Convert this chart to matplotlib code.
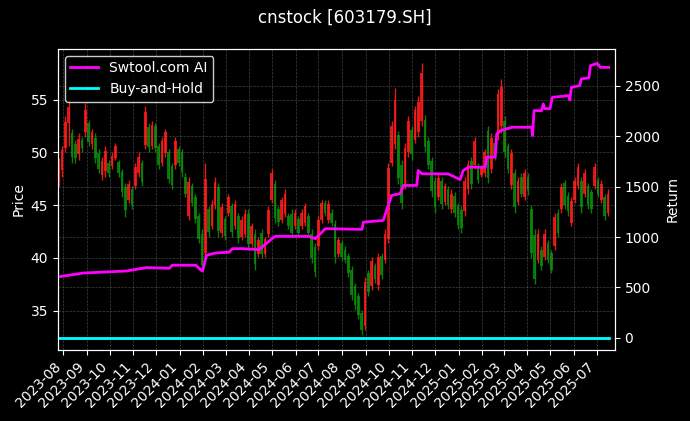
import matplotlib
matplotlib.use("Agg")
import matplotlib.pyplot as plt
import matplotlib.dates as mdates
import numpy as np
import pandas as pd

# Candles (roughly one candle per 3 trading days)
lows = [46.8, 47.7, 50.0, 50.6, 49.0, 49.0, 49.3, 50.0, 51.5, 50.6, 50.3, 49.0, 48.0, 47.4, 47.7, 47.7, 48.4, 49.3, 47.7, 45.8, 43.9, 45.2, 44.6, 46.5, 47.7, 46.8, 50.3, 50.0,
        50.3, 50.0, 48.4, 48.7, 49.6, 47.1, 46.5, 48.4, 48.7, 47.7, 45.8, 43.6, 44.9, 43.3, 41.4, 38.7, 40.0, 42.0, 42.7, 44.6, 42.0, 42.0, 41.7, 44.0, 42.0, 42.7, 41.4, 41.7,
        42.0, 40.8, 41.0, 38.9, 40.1, 40.0, 40.1, 42.0, 45.2, 43.3, 43.0, 43.3, 43.9, 42.7, 42.0, 42.7, 42.0, 42.7, 43.0, 42.0, 39.5, 38.2, 40.8, 43.3, 44.0, 43.3, 43.0, 39.5,
        40.1, 39.8, 39.5, 38.2, 36.0, 35.1, 34.2, 32.7, 33.2, 36.4, 37.0, 37.6, 37.0, 38.0, 39.5, 41.4, 48.7, 50.3, 47.0, 44.6, 46.5, 49.6, 49.3, 50.9, 51.5, 52.5, 50.0, 48.4,
        45.8, 44.3, 45.5, 44.6, 45.0, 44.6, 44.3, 43.9, 42.7, 42.4, 44.0, 46.1, 46.5, 48.4, 47.1, 47.7, 47.7, 47.1, 48.0, 49.3, 51.2, 51.8, 49.6, 48.0, 46.5, 44.3, 45.0, 45.8,
        45.5, 46.0, 40.0, 37.5, 39.5, 38.9, 39.8, 39.5, 38.6, 40.8, 42.0, 44.3, 44.6, 44.0, 43.0, 45.2, 46.5, 44.3, 45.8, 44.6, 44.3, 46.5, 45.8, 45.2, 43.6, 44.0]
highs = [49.5, 50.6, 53.4, 55.0, 52.2, 51.2, 51.8, 51.5, 54.7, 53.1, 52.2, 51.8, 50.3, 49.6, 50.6, 49.3, 50.0, 50.9, 49.3, 48.4, 47.1, 47.4, 46.8, 49.0, 50.0, 49.3, 54.4, 52.8,
         53.0, 52.8, 50.9, 51.5, 52.2, 50.3, 49.0, 51.5, 50.6, 50.3, 48.0, 47.7, 47.1, 46.1, 44.3, 42.7, 49.0, 44.9, 45.5, 47.7, 47.1, 45.2, 44.0, 46.1, 45.2, 45.5, 44.3, 44.0,
         44.6, 44.6, 43.3, 42.7, 42.0, 42.7, 42.0, 44.9, 48.4, 47.4, 44.9, 45.8, 46.5, 44.3, 44.6, 44.6, 44.0, 44.6, 45.2, 44.3, 42.7, 41.4, 44.0, 45.5, 45.5, 45.5, 44.6, 43.6,
         42.0, 41.7, 41.1, 40.5, 39.2, 37.6, 36.7, 35.1, 38.2, 38.9, 40.1, 39.5, 40.5, 40.5, 42.7, 49.0, 53.0, 56.1, 52.0, 49.3, 50.9, 53.4, 52.5, 54.4, 55.3, 58.5, 53.5, 51.5,
         49.6, 47.7, 48.0, 47.7, 47.1, 46.8, 46.5, 46.2, 45.2, 44.9, 47.7, 49.3, 49.6, 51.5, 49.0, 48.7, 50.3, 52.5, 51.8, 51.2, 56.0, 56.9, 53.4, 50.9, 50.3, 48.4, 47.7, 48.0,
         48.4, 48.0, 45.0, 42.7, 42.7, 41.1, 42.7, 41.7, 40.8, 44.3, 44.6, 47.1, 47.4, 46.2, 45.8, 47.7, 49.0, 47.7, 48.4, 47.1, 46.5, 49.0, 47.7, 47.4, 46.1, 46.5]
opens = [47.3, 48.3, 50.4, 52.8, 51.8, 50.8, 49.8, 51.2, 51.9, 52.8, 50.8, 51.4, 49.9, 47.9, 48.2, 49.0, 48.7, 49.5, 49.1, 48.1, 46.7, 45.5, 46.5, 46.8, 48.0, 49.0, 50.7, 52.4,
         50.6, 52.5, 50.6, 49.0, 49.9, 50.0, 48.7, 48.8, 50.3, 50.0, 47.7, 44.0, 46.8, 45.8, 44.0, 42.3, 40.5, 44.6, 43.0, 45.0, 46.7, 42.4, 43.7, 44.3, 44.9, 43.0, 44.0, 42.0,
         42.3, 44.2, 41.3, 42.3, 40.4, 42.4, 40.4, 42.3, 45.5, 47.0, 44.6, 43.6, 44.2, 44.0, 44.2, 43.0, 43.7, 43.0, 43.3, 44.0, 42.3, 41.0, 41.1, 43.6, 45.2, 43.6, 44.3, 43.2,
         40.4, 41.4, 40.8, 40.2, 38.9, 37.3, 36.4, 34.8, 33.6, 38.6, 37.3, 39.2, 37.4, 40.2, 39.8, 41.8, 49.0, 50.8, 51.6, 48.8, 46.9, 50.0, 52.1, 51.2, 51.9, 53.0, 53.1, 51.1,
         49.2, 47.3, 45.8, 47.3, 45.3, 46.5, 44.6, 45.9, 44.9, 44.5, 44.4, 46.5, 49.2, 48.8, 48.7, 47.9, 48.0, 52.0, 48.4, 50.9, 51.6, 52.5, 53.0, 50.6, 46.9, 48.0, 45.3, 47.7,
         45.8, 47.7, 44.6, 42.2, 39.8, 40.8, 40.1, 41.4, 40.5, 41.1, 44.3, 44.6, 47.1, 45.9, 43.3, 45.5, 46.8, 47.3, 46.1, 46.8, 46.2, 46.8, 47.4, 45.5, 45.8, 44.3]
closes = [49.0, 50.2, 52.9, 54.3, 49.6, 49.5, 51.3, 50.4, 54.0, 51.0, 51.9, 49.5, 48.4, 49.2, 50.1, 48.0, 49.7, 50.6, 48.0, 46.2, 44.5, 47.0, 45.0, 48.6, 49.6, 47.2, 53.8, 50.5,
          52.6, 50.4, 48.8, 51.1, 51.9, 47.5, 46.9, 51.1, 49.0, 48.1, 46.1, 47.2, 45.2, 43.7, 41.8, 39.3, 47.5, 42.5, 45.1, 47.2, 42.6, 44.8, 42.1, 45.8, 42.5, 45.1, 41.9, 43.6,
          44.2, 41.3, 43.0, 39.4, 41.7, 40.4, 41.8, 44.5, 48.0, 43.8, 43.4, 45.5, 46.1, 43.0, 42.4, 44.3, 42.4, 44.3, 44.9, 42.4, 40.0, 38.7, 43.6, 45.2, 44.3, 45.1, 43.3, 40.1,
          41.7, 40.1, 39.8, 38.6, 36.5, 35.5, 34.6, 33.2, 37.7, 36.8, 39.7, 38.0, 40.1, 38.4, 42.3, 48.5, 52.5, 55.0, 47.6, 45.2, 50.4, 53.0, 49.8, 54.0, 54.8, 57.5, 50.5, 48.8,
          46.3, 44.8, 47.6, 45.1, 46.8, 45.0, 46.1, 44.3, 43.1, 42.8, 47.3, 48.9, 47.0, 51.1, 47.4, 48.5, 50.0, 47.6, 51.4, 49.6, 55.5, 56.2, 50.0, 48.4, 49.9, 44.8, 47.3, 46.1,
          48.0, 46.4, 40.5, 38.0, 42.3, 39.2, 42.3, 39.8, 38.9, 43.9, 42.4, 46.7, 45.0, 44.4, 45.4, 47.3, 48.6, 44.8, 48.0, 45.0, 44.6, 48.6, 46.1, 47.0, 44.0, 46.1]

# Strategy return curve (breakpoints)
ai_dates = ['2023-07-25', '2023-08-27', '2023-10-23', '2023-11-18', '2023-12-18', '2023-12-22',
            '2024-01-22', '2024-01-29', '2024-01-31', '2024-02-05', '2024-02-17', '2024-03-06',
            '2024-03-10', '2024-03-23', '2024-04-14', '2024-05-01', '2024-05-05', '2024-06-18',
            '2024-06-27', '2024-07-10', '2024-08-27', '2024-08-29', '2024-09-24', '2024-10-05',
            '2024-10-16', '2024-10-21', '2024-11-07', '2024-11-09', '2024-11-14', '2024-12-18',
            '2025-01-03', '2025-01-07', '2025-01-14', '2025-02-05', '2025-02-07', '2025-02-18',
            '2025-02-20', '2025-02-25', '2025-03-12', '2025-04-07', '2025-04-08', '2025-04-10',
            '2025-04-20', '2025-04-22', '2025-04-24', '2025-05-01', '2025-05-04', '2025-05-26',
            '2025-05-27', '2025-05-29', '2025-06-09', '2025-06-11', '2025-06-21', '2025-06-23',
            '2025-07-02', '2025-07-06', '2025-07-17']
ai_values = [604, 643, 663, 697, 690, 720, 720, 670, 665, 819, 842, 850, 885, 885, 875, 984, 1007, 1007,
             984, 1083, 1076, 1148, 1165, 1413, 1430, 1512, 1512, 1660, 1627, 1627, 1570, 1660, 1693, 1693,
             1792, 1792, 2023, 2056, 2089, 2089, 2007, 2254, 2254, 2320, 2274, 2274, 2386, 2403, 2360, 2485,
             2502, 2568, 2580, 2700, 2723, 2683, 2683]

bh_dates = ['2023-07-25', '2025-07-17']
bh_values = [0, 0]

plt.style.use('dark_background')

dates = pd.date_range('2023-07-26', '2025-07-16', periods=len(closes))
o = np.array(opens)
c = np.array(closes)
up = c >= o
colors = np.where(up, '#ff1a1a', '#0a8a0a')
step = (dates[1] - dates[0]).total_seconds() / 86400

fig, ax = plt.subplots(figsize=(6.9, 4.21), dpi=100)
fig.subplots_adjust(left=0.084, right=0.891, top=0.884, bottom=0.169)

ax.vlines(dates, lows, highs, colors=colors, linewidth=1.0, alpha=0.9)
ax.bar(dates, np.abs(c - o), bottom=np.minimum(o, c), width=step * 0.8,
       color=colors, alpha=0.85)
ax.set_ylim(31.3, 59.8)
ax.set_ylabel('Price')
ax.grid(True, linestyle='--', linewidth=0.5, color='gray', alpha=0.5)

ax2 = ax.twinx()
ax2.plot(pd.to_datetime(ai_dates), ai_values, color='magenta', linewidth=2, label='Swtool.com AI')
ax2.plot(pd.to_datetime(bh_dates), bh_values, color='cyan', linewidth=2, label='Buy-and-Hold')
ax2.set_ylim(-119, 2867)
ax2.set_ylabel('Return')
ax2.grid(True, axis='y', linestyle='--', linewidth=0.5, color='gray', alpha=0.5)

ax.set_xlim(pd.Timestamp('2023-07-25'), pd.Timestamp('2025-07-25'))
ax.xaxis.set_major_locator(mdates.MonthLocator())
ax.xaxis.set_major_formatter(mdates.DateFormatter('%Y-%m'))
plt.setp(ax.get_xticklabels(), rotation=45, ha='right')

ax2.legend(loc='upper left', facecolor='black', edgecolor='white', fontsize=10)
fig.suptitle('cnstock [603179.SH]', fontsize=12)

fig.savefig('out.png', dpi=100)
